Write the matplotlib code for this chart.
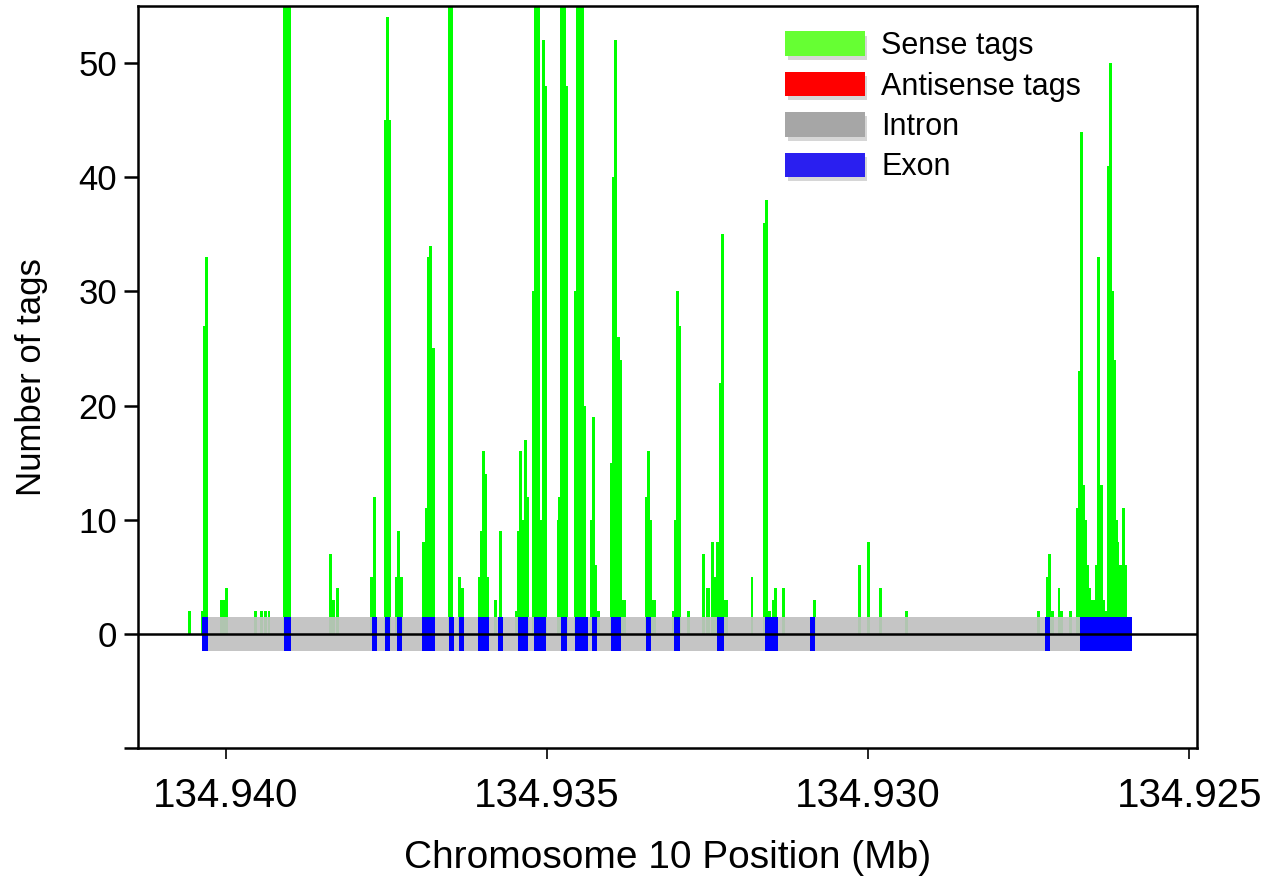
import matplotlib
matplotlib.use("Agg")
import matplotlib.pyplot as plt
import matplotlib.patheffects as pe
from matplotlib.patches import Patch

plt.rcParams['font.family'] = ['Liberation Sans', 'DejaVu Sans']

# sense tag counts: position (Mb) and number of tags
tag_pos = [
    134.94057, 134.94037, 134.94033, 134.94030, 134.94007, 134.94004, 134.93999,
    134.93954, 134.93944, 134.93939, 134.93933, 134.93909, 134.93905, 134.93901,
    134.93837, 134.93833, 134.93826, 134.93773, 134.93769, 134.93752, 134.93748,
    134.93745, 134.93734, 134.93731, 134.93727, 134.93692, 134.93688, 134.93685,
    134.93681, 134.93677, 134.93652, 134.93648, 134.93636, 134.93632, 134.93605,
    134.93602, 134.93599, 134.93596, 134.93593, 134.93580, 134.93572, 134.93547,
    134.93544, 134.93541, 134.93537, 134.93534, 134.93531, 134.93521, 134.93518,
    134.93514, 134.93509, 134.93506, 134.93502, 134.93483, 134.93480, 134.93477,
    134.93473, 134.93470, 134.93456, 134.93453, 134.93449, 134.93445, 134.93441,
    134.93431, 134.93428, 134.93424, 134.93420, 134.93400, 134.93396, 134.93393,
    134.93389, 134.93386, 134.93382, 134.93379, 134.93345, 134.93342, 134.93339,
    134.93335, 134.93332, 134.93304, 134.93300, 134.93297, 134.93294, 134.93280,
    134.93256, 134.93251, 134.93248, 134.93242, 134.93238, 134.93234, 134.93230,
    134.93227, 134.93223, 134.93220, 134.93181, 134.93162, 134.93159, 134.93153,
    134.93148, 134.93145, 134.93132, 134.93083, 134.93013, 134.93000, 134.92981,
    134.92941, 134.92735, 134.92721, 134.92718, 134.92713, 134.92703, 134.92699,
    134.92685, 134.92674, 134.92671, 134.92668, 134.92664, 134.92661, 134.92658,
    134.92655, 134.92652, 134.92649, 134.92645, 134.92641, 134.92637, 134.92634,
    134.92631, 134.92626, 134.92623, 134.92620, 134.92617, 134.92614, 134.92611,
    134.92608, 134.92604, 134.92602, 134.92600,
]
tag_count = [
    2, 2, 27, 33, 3, 3, 4,
    2, 2, 2, 2, 60, 75, 60,
    7, 3, 4, 5, 12, 45, 54,
    45, 5, 9, 5, 8, 11, 33,
    34, 25, 70, 60, 5, 4, 5,
    9, 16, 14, 5, 3, 9, 2,
    9, 16, 10, 17, 12, 30, 80,
    80, 10, 52, 48, 10, 12, 80,
    80, 48, 30, 90, 90, 90, 20,
    10, 19, 6, 2, 15, 40, 52,
    26, 24, 3, 3, 12, 16, 10,
    3, 3, 2, 10, 30, 27, 2,
    7, 4, 4, 8, 5, 8, 22,
    35, 3, 3, 5, 36, 38, 2,
    3, 4, 4, 3, 6, 8, 4,
    2, 2, 5, 7, 2, 4, 2,
    2, 11, 23, 44, 13, 10, 6,
    4, 3, 3, 6, 33, 13, 3,
    2, 41, 50, 30, 24, 10, 8,
    6, 6, 11, 6,
]

# gene model
gene_start, gene_end = 134.94037, 134.92590
exon_start = [134.94037, 134.93909, 134.93773, 134.93753, 134.93734, 134.93694,
              134.93652, 134.93637, 134.93608, 134.93577, 134.93545, 134.93520,
              134.93479, 134.93456, 134.93430, 134.93400, 134.93346, 134.93302,
              134.93235, 134.93160, 134.93090, 134.92725, 134.92671]
exon_end = [134.94028, 134.93899, 134.93765, 134.93745, 134.93726, 134.93674,
            134.93645, 134.93629, 134.93591, 134.93569, 134.93530, 134.93502,
            134.93469, 134.93437, 134.93423, 134.93385, 134.93338, 134.93293,
            134.93224, 134.93141, 134.93083, 134.92717, 134.92589]

x_ticks = [134.940, 134.935, 134.930, 134.925]
y_ticks = [-10, 0, 10, 20, 30, 40, 50]

fig = plt.figure(figsize=(12.87, 8.81), dpi=100)
ax = fig.add_axes([0.1072, 0.151, 0.8229, 0.8422])

ax.bar(tag_pos, tag_count, width=0.000045, color='#00ff00', linewidth=0, zorder=1)

ax.barh(0, gene_end - gene_start, left=gene_start, height=3.0,
        color='#c0c0c0', alpha=0.92, linewidth=0, zorder=2)
for s, e in zip(exon_start, exon_end):
    ax.barh(0, e - s, left=s, height=3.0, color='#0000ff', linewidth=0, zorder=3)

ax.axhline(0, color='black', lw=1.8, zorder=4)

ax.set_xlim(134.94137, 134.92488)
ax.set_ylim(-10, 55)
ax.set_xticks(x_ticks)
ax.set_xticklabels([f"{t:.3f}" for t in x_ticks], fontsize=29)
ax.set_yticks(y_ticks)
ax.set_yticklabels(['' if t < 0 else str(t) for t in y_ticks], fontsize=25)
ax.tick_params(axis='x', length=8, width=1.2, pad=13)
ax.tick_params(axis='y', length=10, width=1.8, pad=5)
for sp in ax.spines.values():
    sp.set_linewidth(1.8)

ax.set_xlabel("Chromosome 10 Position (Mb)", fontsize=28, labelpad=18)
ax.set_ylabel("Number of tags", fontsize=25, labelpad=22)

shadow = [pe.withSimplePatchShadow(offset=(2, -3), shadow_rgbFace='#999999', alpha=0.4), pe.Normal()]
handles = [
    Patch(facecolor='#66ff33', edgecolor='none', path_effects=shadow, label='Sense tags'),
    Patch(facecolor='#ff0000', edgecolor='none', path_effects=shadow, label='Antisense tags'),
    Patch(facecolor='#a6a6a6', edgecolor='none', path_effects=shadow, label='Intron'),
    Patch(facecolor='#2a1ff0', edgecolor='none', path_effects=shadow, label='Exon'),
]
ax.legend(handles=handles, loc='upper left', bbox_to_anchor=(0.611, 0.966),
          frameon=False, fontsize=22, handlelength=2.6, handleheight=0.85,
          handletextpad=0.55, labelspacing=0.34, borderpad=0, borderaxespad=0)

fig.savefig("out.png", dpi=100)
